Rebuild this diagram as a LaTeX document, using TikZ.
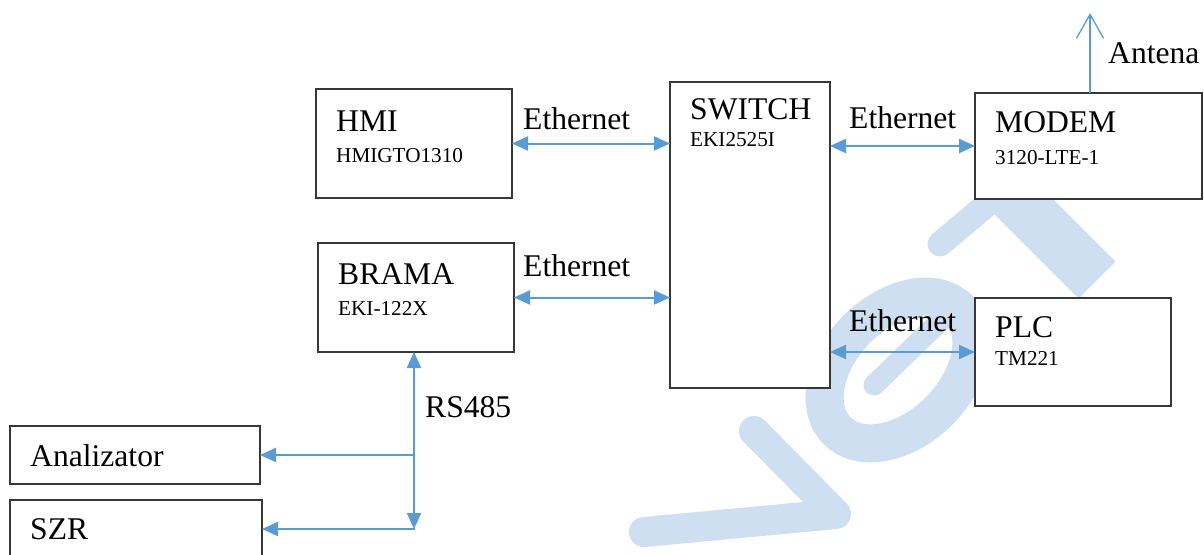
\documentclass[tikz,border=0pt]{standalone}
\usepackage{fontspec}
\setmainfont{Liberation Serif}
\usetikzlibrary{arrows.meta}
\definecolor{wmblue}{RGB}{205,223,241}
\definecolor{lkblue}{RGB}{91,155,213}
\definecolor{bdgray}{RGB}{55,55,55}
\begin{document}
\begin{tikzpicture}[x=1pt,y=-1pt,
  box/.style={draw=bdgray, line width=1.6pt, fill=white, rectangle, inner sep=0pt, outer sep=0pt},
  bigtxt/.style={font=\fontsize{31.6}{36}\selectfont, anchor=base west, inner sep=0pt},
  smalltxt/.style={font=\fontsize{21.2}{25}\selectfont, anchor=base west, inner sep=0pt},
  tipa/.tip={Triangle[length=16pt,width=14pt]},
  link/.style={draw=lkblue, line width=2pt, tipa-tipa},
  onelink/.style={draw=lkblue, line width=2pt, -tipa},
  antline/.style={draw=lkblue, line width=1.3pt, -{Straight Barb[length=24pt,width=27pt,line width=1.3pt]}},
  wm/.style={draw=wmblue}
]
\useasboundingbox (0,0) rectangle (1204,554);
\clip (0,0) rectangle (1204,554);
\fill[white] (0,0) rectangle (1204,554);

% watermark
\draw[wm, line width=30pt, line cap=round, line join=round] (754,431) -- (836,514) -- (644,532);
\draw[wm, line width=38pt] (898,370) ellipse [x radius=86pt, y radius=58pt, rotate=45];
\draw[wm, line width=21pt, line cap=round] (874,385) -- (962,300);
\draw[wm, line width=52pt] (1097,280) -- (1000,183);
\draw[wm, line width=25pt, line cap=round] (940,244) -- (1010,185);

% boxes
\node[box, minimum width=196pt, minimum height=109pt] (hmi) at (414,143.5) {};
\node[box, minimum width=160pt, minimum height=306pt] (sw) at (750,235) {};
\node[box, minimum width=227pt, minimum height=106pt] (modem) at (1088.5,146) {};
\node[box, minimum width=196pt, minimum height=109pt] (brama) at (416,297.5) {};
\node[box, minimum width=196pt, minimum height=108pt] (plc) at (1073,352) {};
\node[box, minimum width=250pt, minimum height=58pt] (ana) at (135,455) {};
\node[box, minimum width=252pt, minimum height=58pt] (szr) at (136,529) {};

% box texts
\node[bigtxt] (thmi) at (336,131) {HMI};
\node[smalltxt] (shmi) at (336,162) {HMIGTO1310};
\node[bigtxt] (tsw) at (690,119) {SWITCH};
\node[smalltxt] (ssw) at (690,146) {EKI2525I};
\node[bigtxt] (tmodem) at (995,132) {MODEM};
\node[smalltxt] (smodem) at (995,164) {3120-LTE-1};
\node[bigtxt] (tbrama) at (338,284) {BRAMA};
\node[smalltxt] (sbrama) at (338,315) {EKI-122X};
\node[bigtxt] (tplc) at (995,337) {PLC};
\node[smalltxt] (splc) at (995,365) {TM221};
\node[bigtxt] (tana) at (30,466) {Analizator};
\node[bigtxt] (tszr) at (30,539) {SZR};

% connectors
\draw[link] (hmi.east) -- (hmi.east -| sw.west);
\draw[link] (brama.east) -- (brama.east -| sw.west);
\draw[link] (modem.west -| sw.east) -- (modem.west);
\draw[link] (plc.west -| sw.east) -- (plc.west);

\coordinate (j1) at (414,455);
\coordinate (j2) at (414,529);
\draw[link] (brama.south -| j1) -- (j2);
\draw[onelink] ([xshift=1pt]j1) -- (j1 -| ana.east);
\draw[onelink] ([xshift=1pt]j2) -- (j2 -| szr.east);

\coordinate (anttip) at (1090,13);
\draw[antline] (modem.north -| anttip) -- (anttip);

% connector labels
\node[bigtxt] (e1) at (523,129) {Ethernet};
\node[bigtxt] (e2) at (523,276) {Ethernet};
\node[bigtxt] (e3) at (849,128) {Ethernet};
\node[bigtxt] (e4) at (849,331) {Ethernet};
\node[bigtxt] (lrs) at (425,417) {RS485};
\node[bigtxt] (lant) at (1108,63) {Antena};
\end{tikzpicture}
\end{document}
